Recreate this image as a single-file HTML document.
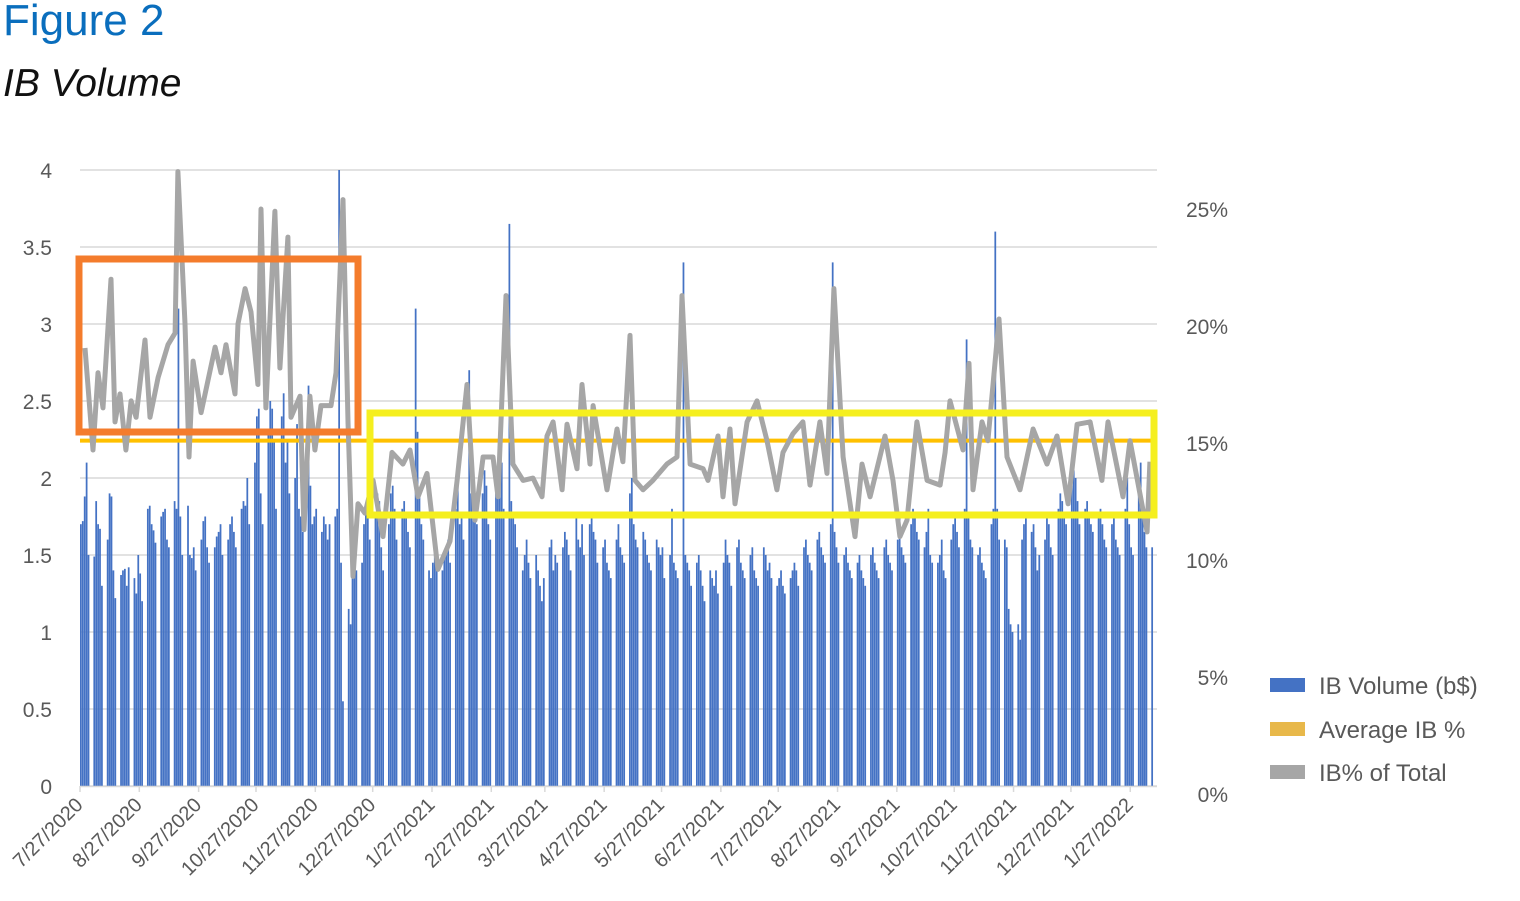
<!DOCTYPE html>
<html><head><meta charset="utf-8">
<style>
html,body{margin:0;padding:0;background:#fff;}
body{width:1520px;height:901px;overflow:hidden;position:relative;font-family:"Liberation Sans",sans-serif;}
#title{position:absolute;left:3px;top:-4px;font-size:44px;color:#0a6ebd;margin:0;font-weight:normal;}
#subtitle{position:absolute;left:3px;top:62px;font-size:39px;font-style:italic;color:#111;}
svg{position:absolute;left:0;top:0;}
</style></head>
<body>
<div id="title">Figure 2</div>
<div id="subtitle">IB Volume</div>
<svg id="chart" width="1520" height="901"></svg>
<script>
const startDate = new Date(2020, 6, 27);
const xTickLabels = ["7/27/2020","8/27/2020","9/27/2020","10/27/2020","11/27/2020","12/27/2020","1/27/2021","2/27/2021","3/27/2021","4/27/2021","5/27/2021","6/27/2021","7/27/2021","8/27/2021","9/27/2021","10/27/2021","11/27/2021","12/27/2021","1/27/2022"];
const leftTicks = [0,0.5,1,1.5,2,2.5,3,3.5,4];
const leftTickLabels = ["0","0.5","1","1.5","2","2.5","3","3.5","4"];
const rightTicks = [0,5,10,15,20,25];
const rightTickLabels = ["0%","5%","10%","15%","20%","25%"];
const averageIB = 15.1;
const ibVolume = [
1.70,1.72,1.88,2.10,1.50, 1.49,1.85,1.70,1.67,1.30, 1.60,1.90,1.88,1.40,1.22, 1.37,1.40,1.41,1.30,1.42,
1.35,1.25,1.50,1.38,1.20, 1.80,1.82,1.70,1.66,1.58, 1.75,1.78,1.80,1.60,1.55, 1.85,1.80,3.10,1.75,1.50,
1.82,1.50,1.48,1.55,1.40, 1.60,1.72,1.75,1.55,1.45, 1.55,1.62,1.65,1.70,1.50, 1.60,1.70,1.75,1.65,1.55,
1.80,1.85,1.82,2.00,1.70, 2.10,2.40,2.45,1.90,1.70, 2.30,2.50,2.45,2.25,1.80, 2.40,2.55,2.10,2.25,1.90,
2.00,2.35,1.80,1.75,1.65, 2.60,1.95,1.70,1.75,1.80, 1.65,1.75,1.70,1.60,1.70, 1.75,1.80,4.00,1.45,0.55,
1.15,1.05,1.60,1.65,1.40, 1.45,1.70,1.80,1.75,1.60, 1.75,1.90,1.85,1.55,1.40, 1.70,1.90,1.95,1.80,1.60,
1.80,1.85,1.75,1.65,1.55, 3.10,2.30,1.90,1.70,1.60, 1.40,1.35,1.45,1.60,1.50, 1.40,1.50,1.55,1.60,1.45,
1.80,1.95,1.70,1.75,1.60, 2.70,1.90,2.00,1.85,1.70, 1.90,2.05,1.95,1.70,1.60, 1.90,2.00,2.20,2.10,1.80,
3.65,1.85,1.75,1.70,1.55, 1.40,1.50,1.60,1.45,1.35, 1.50,1.40,1.30,1.20,1.35, 1.55,1.60,1.40,1.50,1.45,
1.55,1.65,1.60,1.50,1.40, 1.75,1.60,1.55,1.70,1.50, 1.70,1.75,1.65,1.60,1.45, 1.55,1.60,1.45,1.40,1.35,
1.60,1.70,1.55,1.50,1.45, 1.90,2.00,1.70,1.60,1.55, 1.65,1.60,1.50,1.45,1.40, 1.60,1.55,1.50,1.55,1.35,
1.50,1.80,1.45,1.40,1.35, 3.40,1.50,1.45,1.40,1.30, 1.45,1.50,1.40,1.30,1.20, 1.40,1.35,1.30,1.40,1.25,
1.45,1.60,1.50,1.45,1.30, 1.55,1.60,1.45,1.40,1.35, 1.50,1.55,1.40,1.35,1.30, 1.55,1.50,1.40,1.45,1.35,
1.30,1.35,1.40,1.30,1.25, 1.35,1.40,1.45,1.40,1.30, 1.55,1.60,1.50,1.45,1.40, 1.60,1.65,1.55,1.50,1.45,
1.70,3.40,1.65,1.55,1.45, 1.50,1.55,1.45,1.40,1.35, 1.45,1.50,1.40,1.35,1.30, 1.50,1.55,1.45,1.40,1.35,
1.55,1.60,1.50,1.45,1.40, 1.60,1.75,1.55,1.50,1.45, 1.70,1.80,1.75,1.65,1.60, 1.55,1.65,1.80,1.50,1.45,
1.45,1.50,1.60,1.40,1.35, 1.60,1.70,1.75,1.65,1.55, 1.80,2.90,1.75,1.60,1.55, 1.50,1.55,1.45,1.40,1.35,
1.70,1.80,3.60,1.80,1.60, 1.60,1.55,1.15,1.05,1.00, 1.05,0.95,1.60,1.70,1.75, 1.65,1.70,1.55,1.40,1.50,
1.60,1.75,1.70,1.55,1.50, 1.80,1.90,1.85,1.75,1.70, 1.95,2.05,2.00,1.85,1.70, 1.80,1.85,1.75,1.70,1.65,
1.75,1.80,1.70,1.60,1.55, 1.70,1.75,1.60,1.55,1.50, 1.80,2.00,1.70,1.55,1.50, 2.00,2.10,1.80,1.65,1.55,
1.55
];
const ibPctDays = [2.6,6.8,9.4,12.0,16.2,18.3,20.9,24.0,26.7,29.3,34.0,36.6,40.8,46.0,49.7,51.2,54.9,57.0,59.1,63.3,70.6,73.7,76.3,81.0,82.6,86.3,89.4,93.0,94.6,97.2,101.9,104.5,108.7,110.3,115.0,117.1,120.2,122.8,126.0,131.2,133.8,137.5,140.1,142.7,145.3,149.0,153.2,158.4,163.1,168.8,172.5,176.7,181.4,187.1,193.4,197.1,202.3,206.5,210.7,215.9,218.5,222.7,226.3,231.6,236.8,241.5,244.1,247.3,252.0,254.6,259.8,262.4,266.6,268.2,275.5,280.7,283.8,287.5,290.1,294.3,299.5,306.8,312.1,314.7,318.9,325.7,328.3,333.5,336.1,339.8,342.4,348.7,353.9,359.1,364.3,367.5,372.7,377.9,381.6,386.8,390.5,394.1,398.9,405.1,408.8,413.0,420.8,425.0,428.6,432.3,437.5,442.8,449.6,452.2,454.8,461.6,464.7,466.8,471.5,474.6,480.4,484.6,491.4,498.2,505.5,510.7,516.5,521.2,528.0,534.2,537.4,545.2,548.9,557.8,559.3];
const ibPct = [19.06,14.7,18.0,16.5,22.0,15.9,17.1,14.7,16.8,16.1,19.4,16.1,17.8,19.2,19.7,26.6,20.1,14.4,18.5,16.3,19.1,18.0,19.2,17.1,20.1,21.6,20.6,17.5,25.0,16.5,24.9,18.2,23.8,16.1,17.0,11.3,17.0,14.7,16.6,16.6,18.0,25.4,15.9,9.3,12.4,12.0,13.4,11.0,14.6,14.1,14.7,12.7,13.7,9.6,10.8,13.4,17.5,11.7,14.4,14.4,12.7,21.3,14.1,13.4,13.5,12.7,15.3,15.9,13.0,15.8,13.9,17.5,14.1,16.6,13.0,15.6,14.2,19.6,13.4,13.0,13.4,14.1,14.4,21.3,14.1,13.9,13.4,15.3,12.7,15.6,12.4,15.9,16.8,15.1,13.0,14.6,15.4,15.9,13.2,15.9,13.7,21.6,14.4,11.0,14.1,12.7,15.3,13.4,11.0,11.7,15.9,13.4,13.2,14.6,16.8,14.7,18.4,13.0,15.9,15.1,20.3,14.4,13.0,15.6,14.1,15.3,12.4,15.8,15.9,13.4,15.9,12.7,15.1,11.2,14.2];

const NS = "http://www.w3.org/2000/svg";
const svg = document.getElementById('chart');
const X0 = 80, DAY = 1.913, XEND = 1157;
const yL = v => 786 - v * 154;
const yR = p => 794 - p * 23.4;
const xDay = d => X0 + d * DAY;
function mk(tag, attrs, parent){ const e = document.createElementNS(NS, tag); for (const k in attrs) e.setAttribute(k, attrs[k]); (parent||svg).appendChild(e); return e; }

// gridlines + left labels
leftTicks.forEach((v, i) => {
  const g = mk('line', {x1:X0, x2:XEND, y1:yL(v), y2:yL(v), stroke:'#d9d9d9', 'stroke-width':1.5});
  
  
  const t = mk('text', {x:52, y:yL(v)+8, 'text-anchor':'end', 'font-size':21, fill:'#595959'});
  t.textContent = leftTickLabels[i];
  
  
});
rightTicks.forEach((p, i) => {
  const t = mk('text', {x:1228, y:yR(p)+8, 'text-anchor':'end', 'font-size':21, fill:'#595959'});
  t.textContent = rightTickLabels[i];
  
  
});
// bars
const bg = mk('g', {});


ibVolume.forEach((v, i) => {
  const d = Math.floor(i / 5) * 7 + (i % 5);
  const r = mk('rect', {x:xDay(d), y:yL(v), width:1.75, height:786 - yL(v), fill:'#4472c4'}, bg);
  
  
});
// axis line
const ax = mk('line', {x1:X0, x2:XEND, y1:786.5, y2:786.5, stroke:'#d9d9d9', 'stroke-width':1.5});


// x labels
xTickLabels.forEach(lbl => {
  const p = lbl.split('/');
  const dt = new Date(+p[2], +p[0] - 1, +p[1]);
  const d = Math.round((dt - startDate) / 86400000);
  const x = xDay(d);
  const tk = mk('line', {x1:x, x2:x, y1:786, y2:792, stroke:'#d9d9d9', 'stroke-width':1.5});
  
  
  const t = mk('text', {x:x+4, y:806, 'text-anchor':'end', 'font-size':20, fill:'#595959', transform:`rotate(-45 ${x+4} 806)`});
  t.textContent = lbl;
  
  
});
// average line
const av = mk('line', {x1:X0, x2:XEND, y1:yR(averageIB), y2:yR(averageIB), stroke:'#ffc000', 'stroke-width':4});


// pct line
const pts = ibPct.map((p, i) => xDay(ibPctDays[i]).toFixed(1) + ',' + yR(p).toFixed(1)).join(' ');
const pl = mk('polyline', {points:pts, fill:'none', stroke:'#a6a6a6', 'stroke-width':5, 'stroke-linejoin':'round'});


// highlight boxes
const ob = mk('rect', {x:79, y:259, width:279, height:173, fill:'none', stroke:'#f47c2c', 'stroke-width':7});


const yb = mk('rect', {x:370, y:413, width:784, height:102, fill:'none', stroke:'#f5ef1f', 'stroke-width':7});


// legend
const legend = [["IB Volume (b$)","#4472c4",685],["Average IB %","#e8b84a",729],["IB% of Total","#a6a6a6",772]];
legend.forEach(l => {
  const g = mk('g', {});
  
  
  mk('rect', {x:1270, y:l[2]-7, width:35, height:14, fill:l[1]}, g);
  const t = mk('text', {x:1319, y:l[2]+9, 'font-size':24, fill:'#595959'}, g);
  t.textContent = l[0];
});
</script>
</body></html>
